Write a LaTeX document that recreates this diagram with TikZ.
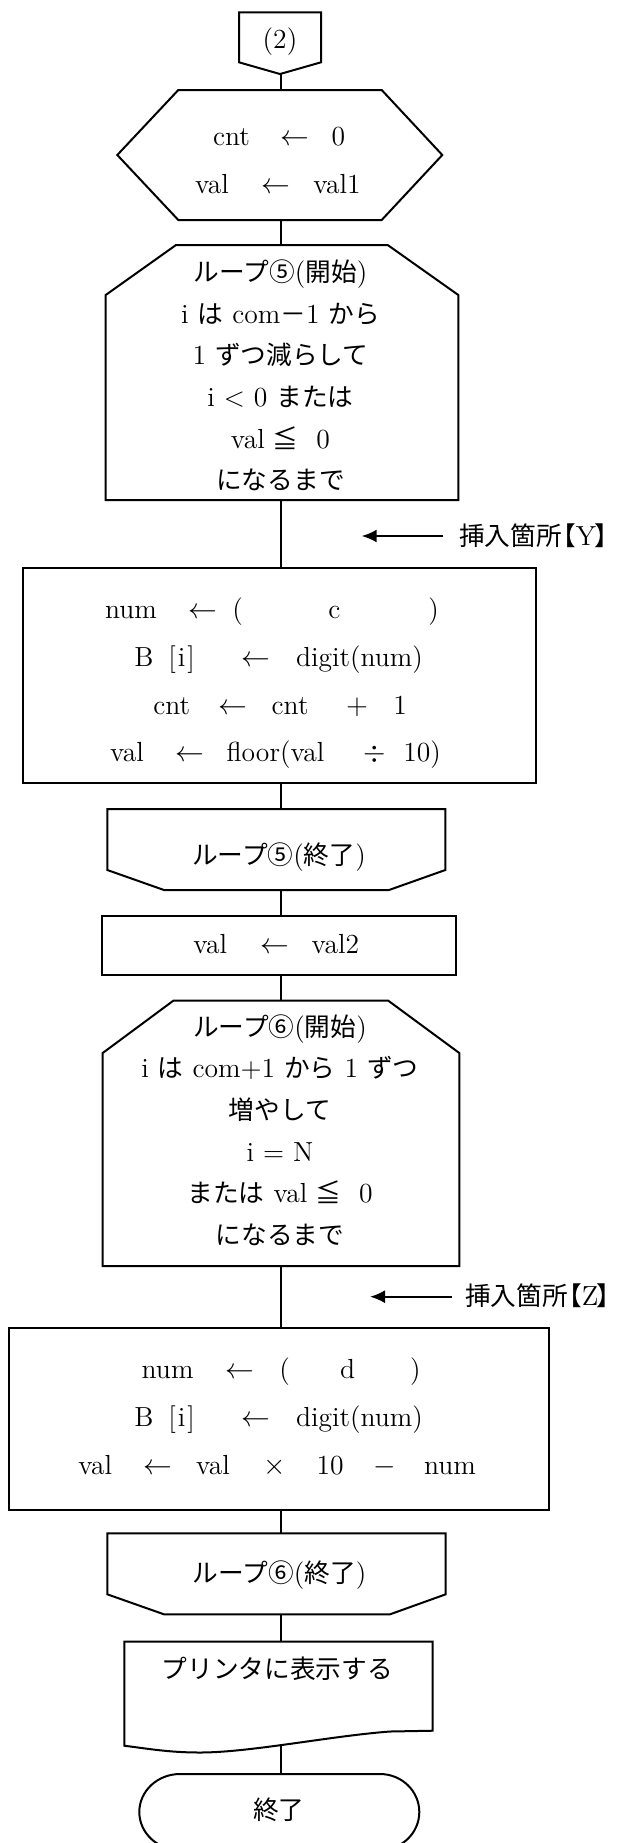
\documentclass[tikz,border=0pt]{standalone}
\usepackage{fontspec}
\newfontfamily\jpfont{Noto Sans CJK JP}
\usetikzlibrary{arrows.meta}
\newcommand\LF{\fontsize{13.8pt}{16pt}\selectfont}
\newcommand\JP[1]{{\jpfont\fontsize{12.85pt}{16pt}\selectfont #1}}
\newcommand\tk[4]{\node[tok] (#1) at (#2,#3) {#4};}
\tikzset{
  shp/.style={draw, line width=1pt, line join=miter},
  conn/.style={line width=1pt},
  arr/.style={line width=1pt, -{Latex[length=7.5pt,width=6.5pt]}},
  tok/.style={anchor=base west, inner sep=0pt, outer sep=0pt, font=\LF},
  ctr/.style={anchor=base, inner sep=0pt, outer sep=0pt, font=\LF},
}
\begin{document}
\begin{tikzpicture}[x=0.5pt,y=-0.5pt]
\useasboundingbox (0,0) rectangle (624,1843);

% off-page connector (2)
\draw[shp] (239,12.3) -- (321,12.3) -- (321,62.3) -- (280,74) -- (239,62.3) -- cycle;
\node[ctr] (n2) at (280,48) {(2)};
\coordinate (c0b) at (280.5,74);

% preparation hexagon
\draw[shp] (178.3,90) -- (381.7,90) -- (442.3,155) -- (381.7,220) -- (178.3,220) -- (117.3,155) -- cycle;
\coordinate (hx-t) at (280.5,90);
\coordinate (hx-b) at (280.5,220);
\tk{h1a}{213}{145}{cnt}
\tk{h1b}{280}{145}{$\leftarrow$}
\tk{h1c}{331.7}{145}{0}
\tk{h2a}{195}{193}{val}
\tk{h2b}{261.7}{193}{$\leftarrow$}
\tk{h2c}{313.3}{193}{val1}

% loop 5 start
\draw[shp] (176,245) -- (387.7,245) -- (458.3,295) -- (458.3,500) -- (105.7,500) -- (105.7,295) -- cycle;
\coordinate (l5s-t) at (280.5,245);
\coordinate (l5s-b) at (280.5,500);
\node[ctr] (l5a) at (280.5,281.3) {\JP{ループ⑤}(\JP{開始})};
\node[ctr] (l5b) at (280.5,323) {i \JP{は} com\JP{－}1 \JP{から}};
\node[ctr] (l5c) at (280.5,364.7) {1 \JP{ずつ減らして}};
\node[ctr] (l5d) at (280.5,406.4) {i < 0 \JP{または}};
\node[ctr] (l5e) at (280.5,448.1) {val\hspace{4pt}\JP{≦}\hspace{9pt}0};
\node[ctr] (l5f) at (280.5,489.8) {\JP{になるまで}};

% insertion arrow Y
\coordinate (yt) at (443.3,536);
\coordinate (yh) at (361.7,536);
\draw[arr] (yt) -- (yh);
\node[tok] (ylab) at (459,545) {\JP{挿入箇所}\kern-5.8pt\JP{【}Y\kern-1pt\JP{】}};

% box c
\draw[shp] (22.7,568.3) rectangle (536,782.7);
\coordinate (bc-t) at (280.5,568.3);
\coordinate (bc-b) at (280.5,782.7);
\tk{c1a}{105}{618}{num}
\tk{c1b}{188.3}{618}{$\leftarrow$}
\tk{c1c}{232.3}{618}{(}
\tk{c1d}{328.3}{618}{c}
\tk{c1e}{428.3}{618}{)}
\tk{c2a}{134.3}{666.5}{B}
\tk{c2b}{168.3}{666.5}{[\kern1pt i\kern1pt]}
\tk{c2c}{241.7}{666.5}{$\leftarrow$}
\tk{c2d}{296}{666.5}{digit(num)}
\tk{c3a}{153.3}{714}{cnt}
\tk{c3b}{218.3}{714}{$\leftarrow$}
\tk{c3c}{271.7}{714}{cnt}
\tk{c3d}{346}{714}{$+$}
\tk{c3e}{393.3}{714}{1}
\tk{c4a}{110}{761.5}{val}
\tk{c4b}{175}{761.5}{$\leftarrow$}
\tk{c4c}{226.7}{761.5}{floor(val}
\tk{c4d}{363}{761.5}{$\div$}
\tk{c4e}{403.3}{761.5}{10)}

% loop 5 end
\draw[shp] (107.3,809) -- (445.3,809) -- (445.3,870) -- (389,890) -- (164,890) -- (107.3,870) -- cycle;
\coordinate (l5e-t) at (280.5,809);
\coordinate (l5e-b) at (280.5,890);
\node[ctr] (l5end) at (279,864) {\JP{ループ⑤}(\JP{終了})};

% val <- val2
\draw[shp] (101.7,916) rectangle (455.7,975);
\coordinate (v-t) at (280.5,916);
\coordinate (v-b) at (280.5,975);
\tk{v1}{193.3}{953}{val}
\tk{v2}{260}{953}{$\leftarrow$}
\tk{v3}{311.7}{953}{val2}

% loop 6 start
\draw[shp] (173.3,1000.7) -- (388.3,1000.7) -- (459.3,1053) -- (459.3,1266) -- (102.7,1266) -- (102.7,1053) -- cycle;
\coordinate (l6s-t) at (280.5,1000.7);
\coordinate (l6s-b) at (280.5,1266);
\node[ctr] (l6a) at (280,1036) {\JP{ループ⑥}(\JP{開始})};
\node[ctr] (l6b) at (280,1077.7) {i \JP{は} com+1 \JP{から} 1 \JP{ずつ}};
\node[ctr] (l6c) at (280,1119.4) {\JP{増やして}};
\node[ctr] (l6d) at (280,1161.1) {i = N};
\node[ctr] (l6e) at (280,1202.8) {\JP{または} val\hspace{4pt}\JP{≦}\hspace{9pt}0};
\node[ctr] (l6f) at (280,1244.5) {\JP{になるまで}};

% insertion arrow Z
\coordinate (zt) at (451.7,1296.7);
\coordinate (zh) at (370,1296.7);
\draw[arr] (zt) -- (zh);
\node[tok] (zlab) at (465,1305.7) {\JP{挿入箇所}\kern-5.8pt\JP{【}Z\kern-1pt\JP{】}};

% box d
\draw[shp] (9,1328.3) rectangle (549.3,1509.5);
\coordinate (bd-t) at (280.5,1328.3);
\coordinate (bd-b) at (280.5,1509.5);
\tk{d1a}{141.7}{1378}{num}
\tk{d1b}{225}{1378}{$\leftarrow$}
\tk{d1c}{279.3}{1378}{(}
\tk{d1d}{340}{1378}{d}
\tk{d1e}{410}{1378}{)}
\tk{d2a}{134.3}{1426.5}{B}
\tk{d2b}{168.3}{1426.5}{[\kern1pt i\kern1pt]}
\tk{d2c}{241.7}{1426.5}{$\leftarrow$}
\tk{d2d}{296}{1426.5}{digit(num)}
\tk{d3a}{78.3}{1474}{val}
\tk{d3b}{143.3}{1474}{$\leftarrow$}
\tk{d3c}{196}{1474}{val}
\tk{d3d}{263}{1474}{$\times$}
\tk{d3e}{316.7}{1474}{10}
\tk{d3f}{373}{1474}{$-$}
\tk{d3g}{424}{1474}{num}

% loop 6 end
\draw[shp] (107.3,1533.3) -- (445.7,1533.3) -- (445.7,1594.3) -- (390,1614.3) -- (164,1614.3) -- (107.3,1594.3) -- cycle;
\coordinate (l6e-t) at (280.5,1533.3);
\coordinate (l6e-b) at (280.5,1614.3);
\node[ctr] (l6end) at (279.5,1582) {\JP{ループ⑥}(\JP{終了})};

% document
\draw[shp] (124.3,1641.7) -- (432.7,1641.7) -- (432.7,1730.7) -- (390,1731.5)
  .. controls (330,1736) and (250,1752.5) .. (200,1752.5)
  .. controls (170,1752.5) and (150,1749) .. (124.3,1745.7) -- cycle;
\coordinate (doc-t) at (280.5,1641.7);
\coordinate (doc-b) at (280.5,1746);
\node[ctr] (doctxt) at (277.4,1678) {\JP{プリンタに表示する}};

% terminal
\draw[shp] (180,1774) -- (380,1774) arc[start angle=-90,end angle=90,x radius=39.3,y radius=38]
  -- (180,1850) arc[start angle=90,end angle=270,x radius=40.7,y radius=38] -- cycle;
\coordinate (term-t) at (280.5,1774);
\node[ctr] (endtxt) at (278.7,1819) {\JP{終了}};

% connectors
\draw[conn] (c0b) -- (hx-t);
\draw[conn] (hx-b) -- (l5s-t);
\draw[conn] (l5s-b) -- (bc-t);
\draw[conn] (bc-b) -- (l5e-t);
\draw[conn] (l5e-b) -- (v-t);
\draw[conn] (v-b) -- (l6s-t);
\draw[conn] (l6s-b) -- (bd-t);
\draw[conn] (bd-b) -- (l6e-t);
\draw[conn] (l6e-b) -- (doc-t);
\draw[conn] (doc-b) -- (term-t);
\end{tikzpicture}
\end{document}
